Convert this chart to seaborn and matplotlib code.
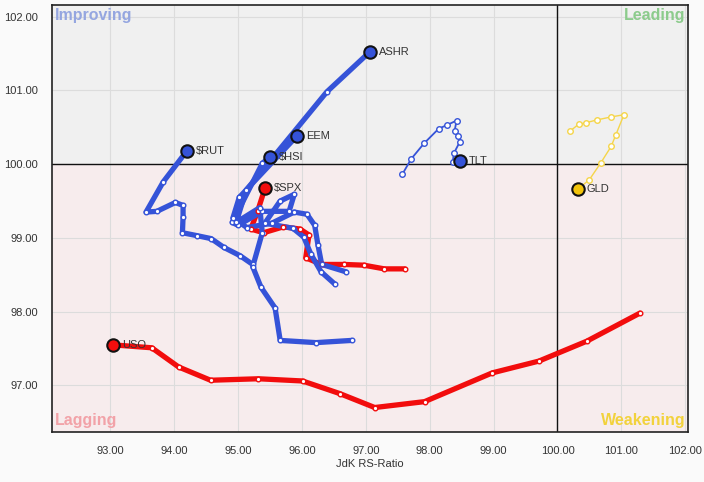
import matplotlib.pyplot as plt
import seaborn as sns
import pandas as pd

# RRG tails, oldest -> newest (last point is the head)
ashr_x = [96.78, 96.22, 95.66, 95.58, 95.36, 95.23, 95.38, 95.34, 94.97, 95.13, 96.39, 97.06]
ashr_y = [97.61, 97.58, 97.61, 98.05, 98.33, 98.61, 99.07, 99.41, 99.21, 99.65, 100.98, 101.52]

eem_x = [96.69, 96.31, 96.25, 96.20, 96.08, 95.88, 95.53, 95.14, 94.92, 95.02, 95.92]
eem_y = [98.54, 98.64, 98.91, 99.17, 99.32, 99.35, 99.20, 99.14, 99.27, 99.55, 100.38]

hsi_x = [96.52, 96.30, 96.14, 96.03, 95.86, 95.42, 95.66, 95.88, 95.80, 95.38, 95.00, 94.91, 95.38, 95.50]
hsi_y = [98.37, 98.54, 98.78, 99.01, 99.13, 99.20, 99.50, 99.59, 99.36, 99.36, 99.17, 99.21, 100.01, 100.10]

rut_x = [95.23, 95.03, 94.78, 94.58, 94.36, 94.13, 94.14, 94.14, 94.02, 93.73, 93.56, 93.83, 94.20]
rut_y = [98.64, 98.76, 98.87, 98.99, 99.03, 99.07, 99.29, 99.44, 99.48, 99.36, 99.35, 99.76, 100.18]

spx_x = [97.61, 97.29, 96.97, 96.66, 96.31, 96.06, 96.11, 95.97, 95.71, 95.40, 95.20, 95.31, 95.42]
spx_y = [98.58, 98.58, 98.63, 98.64, 98.64, 98.73, 99.04, 99.12, 99.15, 99.07, 99.12, 99.37, 99.67]

uso_x = [101.29, 100.46, 99.71, 98.98, 97.92, 97.14, 96.59, 96.01, 95.32, 94.57, 94.07, 93.65, 93.04]
uso_y = [97.98, 97.60, 97.33, 97.17, 96.78, 96.70, 96.89, 97.06, 97.09, 97.07, 97.25, 97.51, 97.55]

tlt_x = [97.57, 97.71, 97.91, 98.14, 98.27, 98.42, 98.39, 98.44, 98.47, 98.38, 98.36, 98.47]
tlt_y = [99.86, 100.07, 100.28, 100.48, 100.53, 100.59, 100.45, 100.38, 100.30, 100.15, 100.03, 100.04]

gld_x = [100.20, 100.33, 100.44, 100.62, 100.84, 101.04, 100.91, 100.84, 100.68, 100.50, 100.32]
gld_y = [100.45, 100.54, 100.56, 100.60, 100.64, 100.67, 100.39, 100.24, 100.02, 99.79, 99.66]

x_ticks = [93, 94, 95, 96, 97, 98, 99, 100, 101, 102]
y_ticks = [97, 98, 99, 100, 101, 102]

blue = '#3553d8'
red = '#f20d0d'
yellow = '#f5d54a'

tails = [
    # name, x, y, colour, line width, head colour
    ('USO', uso_x, uso_y, red, 3.8, red),
    ('$SPX', spx_x, spx_y, red, 3.8, red),
    ('$RUT', rut_x, rut_y, blue, 3.8, blue),
    ('$HSI', hsi_x, hsi_y, blue, 3.8, blue),
    ('EEM', eem_x, eem_y, blue, 3.8, blue),
    ('ASHR', ashr_x, ashr_y, blue, 3.8, blue),
    ('TLT', tlt_x, tlt_y, blue, 1.3, blue),
    ('GLD', gld_x, gld_y, yellow, 1.0, '#f2c40c'),
]

sns.set_theme(style='white')
plt.rcParams['font.family'] = ['Liberation Sans', 'DejaVu Sans']

fig = plt.figure(figsize=(7.04, 4.82), dpi=100, facecolor='#fafafa')
ax = fig.add_axes([0.074, 0.104, 0.903, 0.886])

xlim = (92.09, 102.04)
ylim = (96.37, 102.16)
ax.set_xlim(*xlim)
ax.set_ylim(*ylim)

# quadrant backgrounds
ax.axhspan(100, ylim[1], color='#f0f0f0', zorder=0)
ax.axhspan(ylim[0], 100, color='#f7eced', zorder=0)
ax.set_xticks(x_ticks)
ax.set_yticks(y_ticks)
ax.grid(True, color='#dcdcdc', linewidth=0.8, zorder=1)
ax.set_axisbelow(True)
ax.axvline(100, color='#111111', linewidth=1, zorder=2)
ax.axhline(100, color='#111111', linewidth=1, zorder=2)

for name, xs, ys, col, lw, head_col in tails:
    df = pd.DataFrame({'x': xs, 'y': ys})
    sns.lineplot(data=df, x='x', y='y', sort=False, estimator=None, color=col,
                 linewidth=lw, ax=ax, zorder=3, solid_capstyle='round',
                 solid_joinstyle='round')
    ms = 11 if lw > 2 else 16
    sns.scatterplot(data=df.iloc[:-1], x='x', y='y', s=ms, color='white',
                    edgecolor=col, linewidth=1.0, ax=ax, zorder=4)
    sns.scatterplot(data=df.iloc[-1:], x='x', y='y', s=80, color=head_col,
                    edgecolor='#111111', linewidth=1.5, ax=ax, zorder=5)
    ax.annotate(name.replace('$', r'\$'), (xs[-1], ys[-1]), xytext=(6.5, 0),
                textcoords='offset points', va='center', ha='left',
                fontsize=8, color='#333333', zorder=6)

# quadrant names
qkw = dict(transform=ax.transAxes, fontsize=11.5, fontweight='bold', zorder=6)
ax.text(0.004, 0.992, 'Improving', color='#95a6e0', ha='left', va='top', **qkw)
ax.text(0.996, 0.992, 'Leading', color='#8ccb8c', ha='right', va='top', **qkw)
ax.text(0.004, 0.008, 'Lagging', color='#f2a2a8', ha='left', va='bottom', **qkw)
ax.text(0.996, 0.008, 'Weakening', color='#f2d23c', ha='right', va='bottom', **qkw)

ax.set_xticklabels([f'{v:.2f}' for v in x_ticks])
ax.set_yticklabels([f'{v:.2f}' for v in y_ticks])
ax.tick_params(labelsize=8, colors='#333333', length=0, pad=10)
ax.set_xlabel('JdK RS-Ratio', fontsize=8, color='#333333', labelpad=2)
ax.set_ylabel('')

for sp in ax.spines.values():
    sp.set_color('#222222')
    sp.set_linewidth(1.2)

plt.savefig('out.png', dpi=100, facecolor=fig.get_facecolor())
